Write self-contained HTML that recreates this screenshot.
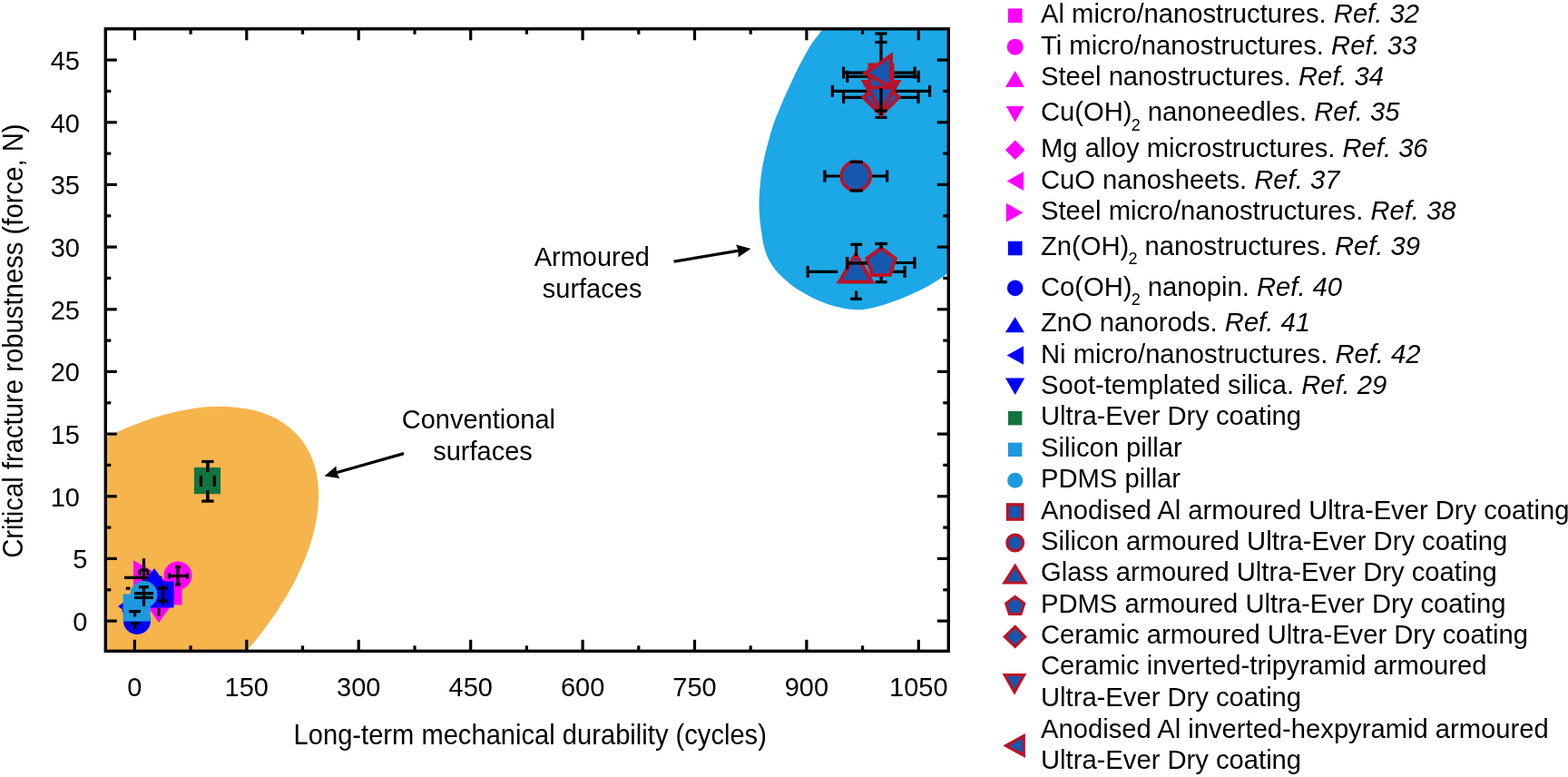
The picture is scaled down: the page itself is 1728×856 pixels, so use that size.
<!DOCTYPE html>
<html><head><meta charset="utf-8"><title>Critical fracture robustness vs mechanical durability</title>
<style>html,body{margin:0;padding:0;background:#fff;}svg{display:block;}</style></head>
<body><svg width="1728" height="856" viewBox="0 0 1728 856">
<rect width="1728" height="856" fill="#fff"/>
<defs><clipPath id="pc"><rect x="116.3" y="31.8" width="929.0" height="685.5"/></clipPath></defs>
<g clip-path="url(#pc)">
<ellipse cx="120.46" cy="656.59" rx="149.47" ry="272.87" transform="rotate(50.32 120.46 656.59)" fill="#F6B44D"/>
<path fill="#1CA7E6" d="M 912.5,21.0 C 911.3,23.1 908.3,29.1 905.4,33.5 C 902.5,37.9 898.0,42.8 894.9,47.5 C 891.8,52.2 889.4,56.6 886.7,61.5 C 884.0,66.4 881.1,71.6 878.6,76.7 C 876.1,81.8 873.9,86.8 871.5,91.9 C 869.1,97.0 866.6,102.2 864.5,107.1 C 862.4,112.0 860.4,117.0 858.7,121.1 C 857.0,125.2 855.7,127.6 854.2,131.7 C 852.7,135.8 851.0,141.2 849.6,145.7 C 848.2,150.2 847.3,154.1 846.1,158.6 C 844.9,163.1 843.6,167.7 842.5,172.6 C 841.4,177.5 840.4,182.9 839.6,187.8 C 838.8,192.7 838.4,196.5 837.9,201.9 C 837.4,207.3 836.8,214.7 836.6,220.0 C 836.4,225.3 836.6,229.5 836.8,234.0 C 837.0,238.5 837.4,242.7 837.9,246.8 C 838.4,250.9 839.0,254.6 839.6,258.5 C 840.2,262.4 840.8,266.6 841.6,270.2 C 842.4,273.8 843.5,277.0 844.6,280.0 C 845.7,283.0 846.9,285.5 848.4,288.2 C 849.9,290.9 851.8,293.7 853.9,296.4 C 856.0,299.1 858.5,301.8 861.3,304.5 C 864.1,307.2 867.1,310.0 870.6,312.7 C 874.1,315.4 877.5,317.9 882.0,320.6 C 886.5,323.3 892.0,326.6 897.3,329.1 C 902.6,331.6 908.1,333.8 913.6,335.6 C 919.1,337.4 924.9,338.8 930.0,339.7 C 935.1,340.6 939.9,341.0 944.0,341.2 C 948.1,341.4 950.5,341.2 954.5,340.6 C 958.5,340.0 963.4,338.9 968.0,337.6 C 972.6,336.3 977.4,334.5 982.1,332.9 C 986.8,331.3 991.5,329.7 996.1,327.8 C 1000.8,325.9 1005.4,323.7 1010.0,321.5 C 1014.6,319.3 1019.2,317.3 1024.0,314.5 C 1028.8,311.7 1034.3,308.1 1039.0,304.9 C 1043.7,301.6 1049.8,296.6 1052.0,295.0  L 1070,295 L 1070,0 L 930,0 Z"/>
</g>
<g><line x1="148.4" y1="717.3" x2="148.4" y2="704.8" stroke="#000" stroke-width="3.2"/><line x1="148.4" y1="31.8" x2="148.4" y2="44.3" stroke="#000" stroke-width="3.2"/><line x1="271.8" y1="717.3" x2="271.8" y2="704.8" stroke="#000" stroke-width="3.2"/><line x1="271.8" y1="31.8" x2="271.8" y2="44.3" stroke="#000" stroke-width="3.2"/><line x1="395.2" y1="717.3" x2="395.2" y2="704.8" stroke="#000" stroke-width="3.2"/><line x1="395.2" y1="31.8" x2="395.2" y2="44.3" stroke="#000" stroke-width="3.2"/><line x1="518.7" y1="717.3" x2="518.7" y2="704.8" stroke="#000" stroke-width="3.2"/><line x1="518.7" y1="31.8" x2="518.7" y2="44.3" stroke="#000" stroke-width="3.2"/><line x1="642.1" y1="717.3" x2="642.1" y2="704.8" stroke="#000" stroke-width="3.2"/><line x1="642.1" y1="31.8" x2="642.1" y2="44.3" stroke="#000" stroke-width="3.2"/><line x1="765.5" y1="717.3" x2="765.5" y2="704.8" stroke="#000" stroke-width="3.2"/><line x1="765.5" y1="31.8" x2="765.5" y2="44.3" stroke="#000" stroke-width="3.2"/><line x1="888.9" y1="717.3" x2="888.9" y2="704.8" stroke="#000" stroke-width="3.2"/><line x1="888.9" y1="31.8" x2="888.9" y2="44.3" stroke="#000" stroke-width="3.2"/><line x1="1012.3" y1="717.3" x2="1012.3" y2="704.8" stroke="#000" stroke-width="3.2"/><line x1="1012.3" y1="31.8" x2="1012.3" y2="44.3" stroke="#000" stroke-width="3.2"/><line x1="210.1" y1="717.3" x2="210.1" y2="711.3" stroke="#000" stroke-width="3.2"/><line x1="210.1" y1="31.8" x2="210.1" y2="37.8" stroke="#000" stroke-width="3.2"/><line x1="333.5" y1="717.3" x2="333.5" y2="711.3" stroke="#000" stroke-width="3.2"/><line x1="333.5" y1="31.8" x2="333.5" y2="37.8" stroke="#000" stroke-width="3.2"/><line x1="457.0" y1="717.3" x2="457.0" y2="711.3" stroke="#000" stroke-width="3.2"/><line x1="457.0" y1="31.8" x2="457.0" y2="37.8" stroke="#000" stroke-width="3.2"/><line x1="580.4" y1="717.3" x2="580.4" y2="711.3" stroke="#000" stroke-width="3.2"/><line x1="580.4" y1="31.8" x2="580.4" y2="37.8" stroke="#000" stroke-width="3.2"/><line x1="703.8" y1="717.3" x2="703.8" y2="711.3" stroke="#000" stroke-width="3.2"/><line x1="703.8" y1="31.8" x2="703.8" y2="37.8" stroke="#000" stroke-width="3.2"/><line x1="827.2" y1="717.3" x2="827.2" y2="711.3" stroke="#000" stroke-width="3.2"/><line x1="827.2" y1="31.8" x2="827.2" y2="37.8" stroke="#000" stroke-width="3.2"/><line x1="950.6" y1="717.3" x2="950.6" y2="711.3" stroke="#000" stroke-width="3.2"/><line x1="950.6" y1="31.8" x2="950.6" y2="37.8" stroke="#000" stroke-width="3.2"/><line x1="116.3" y1="684.1" x2="128.8" y2="684.1" stroke="#000" stroke-width="3.2"/><line x1="1045.3" y1="684.1" x2="1032.8" y2="684.1" stroke="#000" stroke-width="3.2"/><line x1="116.3" y1="615.4" x2="128.8" y2="615.4" stroke="#000" stroke-width="3.2"/><line x1="1045.3" y1="615.4" x2="1032.8" y2="615.4" stroke="#000" stroke-width="3.2"/><line x1="116.3" y1="546.8" x2="128.8" y2="546.8" stroke="#000" stroke-width="3.2"/><line x1="1045.3" y1="546.8" x2="1032.8" y2="546.8" stroke="#000" stroke-width="3.2"/><line x1="116.3" y1="478.1" x2="128.8" y2="478.1" stroke="#000" stroke-width="3.2"/><line x1="1045.3" y1="478.1" x2="1032.8" y2="478.1" stroke="#000" stroke-width="3.2"/><line x1="116.3" y1="409.4" x2="128.8" y2="409.4" stroke="#000" stroke-width="3.2"/><line x1="1045.3" y1="409.4" x2="1032.8" y2="409.4" stroke="#000" stroke-width="3.2"/><line x1="116.3" y1="340.8" x2="128.8" y2="340.8" stroke="#000" stroke-width="3.2"/><line x1="1045.3" y1="340.8" x2="1032.8" y2="340.8" stroke="#000" stroke-width="3.2"/><line x1="116.3" y1="272.1" x2="128.8" y2="272.1" stroke="#000" stroke-width="3.2"/><line x1="1045.3" y1="272.1" x2="1032.8" y2="272.1" stroke="#000" stroke-width="3.2"/><line x1="116.3" y1="203.4" x2="128.8" y2="203.4" stroke="#000" stroke-width="3.2"/><line x1="1045.3" y1="203.4" x2="1032.8" y2="203.4" stroke="#000" stroke-width="3.2"/><line x1="116.3" y1="134.8" x2="128.8" y2="134.8" stroke="#000" stroke-width="3.2"/><line x1="1045.3" y1="134.8" x2="1032.8" y2="134.8" stroke="#000" stroke-width="3.2"/><line x1="116.3" y1="66.1" x2="128.8" y2="66.1" stroke="#000" stroke-width="3.2"/><line x1="1045.3" y1="66.1" x2="1032.8" y2="66.1" stroke="#000" stroke-width="3.2"/><line x1="116.3" y1="649.8" x2="122.3" y2="649.8" stroke="#000" stroke-width="3.2"/><line x1="1045.3" y1="649.8" x2="1039.3" y2="649.8" stroke="#000" stroke-width="3.2"/><line x1="116.3" y1="581.1" x2="122.3" y2="581.1" stroke="#000" stroke-width="3.2"/><line x1="1045.3" y1="581.1" x2="1039.3" y2="581.1" stroke="#000" stroke-width="3.2"/><line x1="116.3" y1="512.4" x2="122.3" y2="512.4" stroke="#000" stroke-width="3.2"/><line x1="1045.3" y1="512.4" x2="1039.3" y2="512.4" stroke="#000" stroke-width="3.2"/><line x1="116.3" y1="443.8" x2="122.3" y2="443.8" stroke="#000" stroke-width="3.2"/><line x1="1045.3" y1="443.8" x2="1039.3" y2="443.8" stroke="#000" stroke-width="3.2"/><line x1="116.3" y1="375.1" x2="122.3" y2="375.1" stroke="#000" stroke-width="3.2"/><line x1="1045.3" y1="375.1" x2="1039.3" y2="375.1" stroke="#000" stroke-width="3.2"/><line x1="116.3" y1="306.4" x2="122.3" y2="306.4" stroke="#000" stroke-width="3.2"/><line x1="1045.3" y1="306.4" x2="1039.3" y2="306.4" stroke="#000" stroke-width="3.2"/><line x1="116.3" y1="237.8" x2="122.3" y2="237.8" stroke="#000" stroke-width="3.2"/><line x1="1045.3" y1="237.8" x2="1039.3" y2="237.8" stroke="#000" stroke-width="3.2"/><line x1="116.3" y1="169.1" x2="122.3" y2="169.1" stroke="#000" stroke-width="3.2"/><line x1="1045.3" y1="169.1" x2="1039.3" y2="169.1" stroke="#000" stroke-width="3.2"/><line x1="116.3" y1="100.4" x2="122.3" y2="100.4" stroke="#000" stroke-width="3.2"/><line x1="1045.3" y1="100.4" x2="1039.3" y2="100.4" stroke="#000" stroke-width="3.2"/></g>
<rect x="116.3" y="31.8" width="929.0" height="685.5" fill="none" stroke="#000" stroke-width="3.4"/>
<g font-size="29" font-family="'Liberation Sans', Arial, Helvetica, sans-serif" fill="#000"><text transform="translate(148.4,766.8) scale(1,1.045)" text-anchor="middle">0</text><text transform="translate(271.8,766.8) scale(1,1.045)" text-anchor="middle">150</text><text transform="translate(395.2,766.8) scale(1,1.045)" text-anchor="middle">300</text><text transform="translate(518.7,766.8) scale(1,1.045)" text-anchor="middle">450</text><text transform="translate(642.1,766.8) scale(1,1.045)" text-anchor="middle">600</text><text transform="translate(765.5,766.8) scale(1,1.045)" text-anchor="middle">750</text><text transform="translate(888.9,766.8) scale(1,1.045)" text-anchor="middle">900</text><text transform="translate(1012.3,766.8) scale(1,1.045)" text-anchor="middle">1050</text><text transform="translate(88,557.8) scale(1,1.045)" text-anchor="end">10</text><text transform="translate(88,489.1) scale(1,1.045)" text-anchor="end">15</text><text transform="translate(88,420.4) scale(1,1.045)" text-anchor="end">20</text><text transform="translate(88,351.8) scale(1,1.045)" text-anchor="end">25</text><text transform="translate(88,283.1) scale(1,1.045)" text-anchor="end">30</text><text transform="translate(88,214.4) scale(1,1.045)" text-anchor="end">35</text><text transform="translate(88,145.8) scale(1,1.045)" text-anchor="end">40</text><text transform="translate(88,77.1) scale(1,1.045)" text-anchor="end">45</text><text transform="translate(96.5,694.8) scale(1,1.045)" text-anchor="end">0</text><text transform="translate(96.5,626.1) scale(1,1.045)" text-anchor="end">5</text></g>
<text transform="translate(584.2,819.8) scale(1,1.045)" text-anchor="middle" font-size="29.15" font-family="'Liberation Sans', Arial, Helvetica, sans-serif">Long-term mechanical durability (cycles)</text>
<text transform="translate(25.4,375.6) rotate(-90) scale(1,1.065)" text-anchor="middle" font-size="29.3" font-family="'Liberation Sans', Arial, Helvetica, sans-serif">Critical fracture robustness (force, N)</text>
<g font-size="29" font-family="'Liberation Sans', Arial, Helvetica, sans-serif" text-anchor="middle"><text x="652.3" y="292.5">Armoured</text><text x="652.6" y="327.5">surfaces</text><text x="527.4" y="471.6">Conventional</text><text x="532" y="506.8">surfaces</text></g>
<line x1="742.6" y1="288.1" x2="814.2" y2="276.2" stroke="#000" stroke-width="3.2"/><polygon points="827.5,274.0 813.4,283.4 813.7,276.3 811.1,269.6" fill="#000"/>
<line x1="445.0" y1="499.6" x2="370.5" y2="520.8" stroke="#000" stroke-width="3.2"/><polygon points="357.5,524.5 370.5,513.5 371.0,520.7 374.3,527.0" fill="#000"/>
<line x1="971.0" y1="37.0" x2="971.0" y2="129.4" stroke="#000" stroke-width="3.2"/><line x1="964.5" y1="37.0" x2="977.5" y2="37.0" stroke="#000" stroke-width="3.2"/><line x1="964.5" y1="129.4" x2="977.5" y2="129.4" stroke="#000" stroke-width="3.2"/>
<line x1="964.3" y1="46.5" x2="977.6" y2="46.5" stroke="#000" stroke-width="3.2"/>
<line x1="929.6" y1="80.1" x2="1008.1" y2="80.1" stroke="#000" stroke-width="3.2"/><line x1="929.6" y1="73.6" x2="929.6" y2="86.6" stroke="#000" stroke-width="3.2"/><line x1="1008.1" y1="73.6" x2="1008.1" y2="86.6" stroke="#000" stroke-width="3.2"/>
<line x1="933.8" y1="84.3" x2="1012.3" y2="84.3" stroke="#000" stroke-width="3.2"/><line x1="933.8" y1="77.8" x2="933.8" y2="90.8" stroke="#000" stroke-width="3.2"/><line x1="1012.3" y1="77.8" x2="1012.3" y2="90.8" stroke="#000" stroke-width="3.2"/>
<line x1="917.4" y1="100.3" x2="1024.6" y2="100.3" stroke="#000" stroke-width="3.2"/><line x1="917.4" y1="93.8" x2="917.4" y2="106.8" stroke="#000" stroke-width="3.2"/><line x1="1024.6" y1="93.8" x2="1024.6" y2="106.8" stroke="#000" stroke-width="3.2"/>
<line x1="929.6" y1="107.3" x2="1012.0" y2="107.3" stroke="#000" stroke-width="3.2"/><line x1="929.6" y1="100.8" x2="929.6" y2="113.8" stroke="#000" stroke-width="3.2"/><line x1="1012.0" y1="100.8" x2="1012.0" y2="113.8" stroke="#000" stroke-width="3.2"/>
<polygon points="971.0,88.0 990.5,107.3 971.0,126.5 951.5,107.3" fill="#1558B0" stroke="#BC1226" stroke-width="4" stroke-linejoin="miter"/>
<polygon points="952.0,90.0 990.0,90.0 971.0,123.0" fill="#1558B0" stroke="#BC1226" stroke-width="4" stroke-linejoin="miter"/>
<rect x="958.5" y="71.5" width="25.0" height="25.0" fill="#1558B0" stroke="#BC1226" stroke-width="4"/>
<polygon points="954.0,80.5 982.0,61.0 982.0,96.0" fill="#1558B0" stroke="#BC1226" stroke-width="4" stroke-linejoin="miter"/>
<line x1="971.0" y1="97.0" x2="971.0" y2="127.0" stroke="#000" stroke-width="3.2"/>
<line x1="964.3" y1="122.0" x2="977.6" y2="122.0" stroke="#000" stroke-width="3.2"/>
<line x1="908.9" y1="194.0" x2="977.6" y2="194.0" stroke="#000" stroke-width="3.2"/><line x1="908.9" y1="187.5" x2="908.9" y2="200.5" stroke="#000" stroke-width="3.2"/><line x1="977.6" y1="187.5" x2="977.6" y2="200.5" stroke="#000" stroke-width="3.2"/>
<circle cx="943.2" cy="194.0" r="16.0" fill="#1558B0" stroke="#BC1226" stroke-width="3.6"/>
<line x1="936.6" y1="178.4" x2="951.0" y2="178.4" stroke="#000" stroke-width="3.2"/><line x1="936.6" y1="210.0" x2="951.0" y2="210.0" stroke="#000" stroke-width="3.2"/>
<line x1="890.2" y1="299.4" x2="923.2" y2="299.4" stroke="#000" stroke-width="3.2"/><line x1="890.2" y1="292.9" x2="890.2" y2="305.9" stroke="#000" stroke-width="3.2"/><line x1="964.0" y1="299.4" x2="997.1" y2="299.4" stroke="#000" stroke-width="3.2"/><line x1="997.1" y1="292.9" x2="997.1" y2="305.9" stroke="#000" stroke-width="3.2"/>
<line x1="943.6" y1="320.5" x2="943.6" y2="329.3" stroke="#000" stroke-width="3.2"/><line x1="937.1" y1="329.3" x2="950.1" y2="329.3" stroke="#000" stroke-width="3.2"/>
<line x1="933.5" y1="289.5" x2="1008.0" y2="289.5" stroke="#000" stroke-width="3.2"/><line x1="933.5" y1="283.0" x2="933.5" y2="296.0" stroke="#000" stroke-width="3.2"/><line x1="1008.0" y1="283.0" x2="1008.0" y2="296.0" stroke="#000" stroke-width="3.2"/><line x1="971.1" y1="268.5" x2="971.1" y2="310.7" stroke="#000" stroke-width="3.2"/><line x1="964.6" y1="268.5" x2="977.6" y2="268.5" stroke="#000" stroke-width="3.2"/><line x1="964.6" y1="310.7" x2="977.6" y2="310.7" stroke="#000" stroke-width="3.2"/>
<polygon points="943.1,280.0 961.0,310.4 925.2,310.4" fill="#1558B0" stroke="#BC1226" stroke-width="4" stroke-linejoin="miter"/>
<polygon points="971.1,273.3 986.8,284.7 980.8,303.1 961.4,303.1 955.4,284.7" fill="#1558B0" stroke="#BC1226" stroke-width="4" stroke-linejoin="miter"/>
<line x1="937.3" y1="269.3" x2="950.2" y2="269.3" stroke="#000" stroke-width="3.2"/><line x1="943.6" y1="269.3" x2="943.6" y2="282.0" stroke="#000" stroke-width="3.2"/>
<line x1="964.3" y1="268.5" x2="977.8" y2="268.5" stroke="#000" stroke-width="3.2"/><line x1="971.1" y1="268.5" x2="971.1" y2="274.0" stroke="#000" stroke-width="3.2"/>
<line x1="933.7" y1="283.5" x2="933.7" y2="296.5" stroke="#000" stroke-width="3.2"/><line x1="933.7" y1="290.0" x2="956.0" y2="290.0" stroke="#000" stroke-width="3.2"/>
<line x1="228.9" y1="508.5" x2="228.9" y2="552.1" stroke="#000" stroke-width="3.2"/><line x1="222.2" y1="508.5" x2="235.6" y2="508.5" stroke="#000" stroke-width="3.2"/><line x1="222.2" y1="552.1" x2="235.6" y2="552.1" stroke="#000" stroke-width="3.2"/>
<rect x="213.9" y="515.0" width="29.2" height="29.2" fill="#137440"/>
<line x1="228.9" y1="508.5" x2="228.9" y2="520.0" stroke="#000" stroke-width="3.2"/><line x1="228.9" y1="540.0" x2="228.9" y2="552.1" stroke="#000" stroke-width="3.2"/>
<line x1="221.5" y1="524.0" x2="221.5" y2="536.0" stroke="#000" stroke-width="3.2"/><line x1="236.3" y1="524.0" x2="236.3" y2="536.0" stroke="#000" stroke-width="3.2"/>
<g><polygon points="147.0,617.3 175.0,633.0 147.0,650.0" fill="#FF00FF"/><line x1="158.5" y1="615.2" x2="158.5" y2="640.0" stroke="#000" stroke-width="3.2"/><line x1="137.0" y1="636.4" x2="178.4" y2="636.4" stroke="#000" stroke-width="3.2"/><line x1="154.0" y1="628.0" x2="163.0" y2="628.0" stroke="#000" stroke-width="3.2"/><line x1="154.0" y1="628.0" x2="154.0" y2="634.0" stroke="#000" stroke-width="3.2"/><line x1="163.0" y1="628.0" x2="163.0" y2="634.0" stroke="#000" stroke-width="3.2"/><circle cx="196.0" cy="634.0" r="15.5" fill="#FF00FF"/><rect x="171.5" y="637.5" width="29.0" height="29.0" fill="#FF00FF"/><polygon points="150.0,650.0 201.0,650.0 175.0,686.0" fill="#FF00FF"/><line x1="196.0" y1="624.0" x2="196.0" y2="644.4" stroke="#000" stroke-width="3.2"/><line x1="186.0" y1="634.5" x2="207.0" y2="634.5" stroke="#000" stroke-width="3.2"/><line x1="193.0" y1="624.5" x2="199.0" y2="624.5" stroke="#000" stroke-width="3.2"/><line x1="193.0" y1="644.0" x2="199.0" y2="644.0" stroke="#000" stroke-width="3.2"/><line x1="186.5" y1="631.5" x2="186.5" y2="637.5" stroke="#000" stroke-width="3.2"/><line x1="206.5" y1="631.5" x2="206.5" y2="637.5" stroke="#000" stroke-width="3.2"/><polygon points="170.0,626.0 190.0,654.0 150.0,654.0" fill="#0000FF"/><rect x="162.5" y="640.5" width="29.0" height="29.0" fill="#0000FF"/><line x1="179.5" y1="645.0" x2="179.5" y2="666.0" stroke="#000" stroke-width="3.2"/><line x1="174.0" y1="648.0" x2="185.0" y2="648.0" stroke="#000" stroke-width="3.2"/><line x1="174.0" y1="662.0" x2="185.0" y2="662.0" stroke="#000" stroke-width="3.2"/><line x1="175.0" y1="670.0" x2="175.0" y2="678.3" stroke="#000" stroke-width="3.2"/><polygon points="130.0,668.0 150.0,654.0 150.0,682.0" fill="#0000FF"/><circle cx="151.0" cy="684.0" r="15.0" fill="#0000FF"/><polygon points="134.0,672.0 165.0,672.0 149.5,698.5" fill="#0000FF"/><rect x="135.6" y="654.5" width="30.0" height="30.0" fill="#1E98DF"/><circle cx="158.5" cy="655.0" r="15.0" fill="#1E98DF"/><line x1="158.5" y1="646.7" x2="158.5" y2="667.8" stroke="#000" stroke-width="3.2"/><line x1="148.0" y1="653.7" x2="169.0" y2="653.7" stroke="#000" stroke-width="3.2"/><line x1="148.0" y1="658.4" x2="169.0" y2="658.4" stroke="#000" stroke-width="3.2"/><line x1="153.0" y1="646.7" x2="164.0" y2="646.7" stroke="#000" stroke-width="3.2"/><line x1="142.2" y1="673.6" x2="155.0" y2="673.6" stroke="#000" stroke-width="3.2"/><line x1="148.6" y1="673.6" x2="148.6" y2="679.4" stroke="#000" stroke-width="3.2"/><line x1="143.4" y1="686.6" x2="153.9" y2="686.6" stroke="#000" stroke-width="3.2"/><line x1="148.6" y1="686.6" x2="148.6" y2="693.5" stroke="#000" stroke-width="3.2"/><line x1="138.7" y1="648.2" x2="143.4" y2="648.2" stroke="#000" stroke-width="3.2"/></g>
<g font-size="29.2" font-family="'Liberation Sans', Arial, Helvetica, sans-serif" fill="#000"><text x="1147" y="25.4">Al micro/nanostructures. <tspan font-style="italic">Ref. 32</tspan></text><text x="1147" y="59.6">Ti micro/nanostructures. <tspan font-style="italic">Ref. 33</tspan></text><text x="1147" y="93.7">Steel nanostructures. <tspan font-style="italic">Ref. 34</tspan></text><text x="1147" y="133.2">Cu(OH)<tspan font-size="18" dx="-0.8" dy="10.4">2</tspan><tspan dy="-10.4"> nanoneedles. </tspan><tspan font-style="italic">Ref. 35</tspan></text><text x="1147" y="172.9">Mg alloy microstructures. <tspan font-style="italic">Ref. 36</tspan></text><text x="1147" y="207.5">CuO nanosheets. <tspan font-style="italic">Ref. 37</tspan></text><text x="1147" y="242.2">Steel micro/nanostructures. <tspan font-style="italic">Ref. 38</tspan></text><text x="1147" y="281.0">Zn(OH)<tspan font-size="18" dx="-0.8" dy="10.4">2</tspan><tspan dy="-10.4"> nanostructures. </tspan><tspan font-style="italic">Ref. 39</tspan></text><text x="1147" y="325.6">Co(OH)<tspan font-size="18" dx="-0.8" dy="10.4">2</tspan><tspan dy="-10.4"> nanopin. </tspan><tspan font-style="italic">Ref. 40</tspan></text><text x="1147" y="365.0">ZnO nanorods. <tspan font-style="italic">Ref. 41</tspan></text><text x="1147" y="400.0">Ni micro/nanostructures. <tspan font-style="italic">Ref. 42</tspan></text><text x="1147" y="433.8">Soot-templated silica. <tspan font-style="italic">Ref. 29</tspan></text><text x="1147" y="468.0">Ultra-Ever Dry coating</text><text x="1147" y="502.5">Silicon pillar</text><text x="1147" y="537.0">PDMS pillar</text><text x="1147" y="572.0">Anodised Al armoured Ultra-Ever Dry coating</text><text x="1147" y="606.2">Silicon armoured Ultra-Ever Dry coating</text><text x="1147" y="640.2">Glass armoured Ultra-Ever Dry coating</text><text x="1147" y="674.6">PDMS armoured Ultra-Ever Dry coating</text><text x="1147" y="709.2">Ceramic armoured Ultra-Ever Dry coating</text><text x="1147" y="743.3">Ceramic inverted-tripyramid armoured</text><text x="1147" y="778.3">Ultra-Ever Dry coating</text><text x="1147" y="812.6">Anodised Al inverted-hexpyramid armoured</text><text x="1147" y="847.0">Ultra-Ever Dry coating</text></g>
<g><rect x="1110.9" y="9.4" width="15.6" height="15.6" fill="#FF00FF"/><circle cx="1118.7" cy="51.7" r="9.0" fill="#FF00FF"/><polygon points="1118.7,78.0 1128.9,96.0 1107.9,96.0" fill="#FF00FF"/><polygon points="1108.8,117.0 1128.4,117.0 1118.7,134.6" fill="#FF00FF"/><polygon points="1118.7,154.4 1129.4,165.2 1118.7,175.9 1107.9,165.2" fill="#FF00FF"/><polygon points="1109.6,199.5 1128.0,189.0 1128.0,210.0" fill="#FF00FF"/><polygon points="1108.8,223.8 1127.2,234.3 1108.8,244.8" fill="#FF00FF"/><rect x="1110.9" y="265.7" width="15.6" height="15.6" fill="#0000FF"/><circle cx="1118.7" cy="317.4" r="8.8" fill="#0000FF"/><polygon points="1118.7,349.2 1128.9,366.2 1107.9,366.2" fill="#0000FF"/><polygon points="1109.6,391.5 1128.0,381.3 1128.0,401.8" fill="#0000FF"/><polygon points="1108.0,416.6 1129.2,416.6 1118.7,435.0" fill="#0000FF"/><rect x="1111.0" y="453.0" width="15.4" height="15.4" fill="#137440"/><rect x="1111.0" y="487.6" width="15.4" height="15.4" fill="#1E98DF"/><circle cx="1118.7" cy="529.3" r="8.5" fill="#1E98DF"/><rect x="1110.6" y="555.9" width="16.2" height="16.2" fill="#1558B0" stroke="#BC1226" stroke-width="3.4"/><circle cx="1118.7" cy="598.0" r="8.8" fill="#1558B0" stroke="#BC1226" stroke-width="3.4"/><polygon points="1118.7,623.5 1130.0,642.0 1107.0,642.0" fill="#1558B0" stroke="#BC1226" stroke-width="3.2" stroke-linejoin="miter"/><polygon points="1118.7,657.5 1128.7,664.8 1124.9,676.5 1112.5,676.5 1108.7,664.8" fill="#1558B0" stroke="#BC1226" stroke-width="3.2" stroke-linejoin="miter"/><polygon points="1118.7,690.5 1129.6,701.4 1118.7,712.3 1107.4,701.4" fill="#1558B0" stroke="#BC1226" stroke-width="3.2" stroke-linejoin="miter"/><polygon points="1107.3,743.5 1128.5,743.5 1118.0,762.5" fill="#1558B0" stroke="#BC1226" stroke-width="3.2" stroke-linejoin="miter"/><polygon points="1108.6,821.5 1128.3,810.8 1128.3,832.4" fill="#1558B0" stroke="#BC1226" stroke-width="3.2" stroke-linejoin="miter"/></g>
</svg></body></html>
